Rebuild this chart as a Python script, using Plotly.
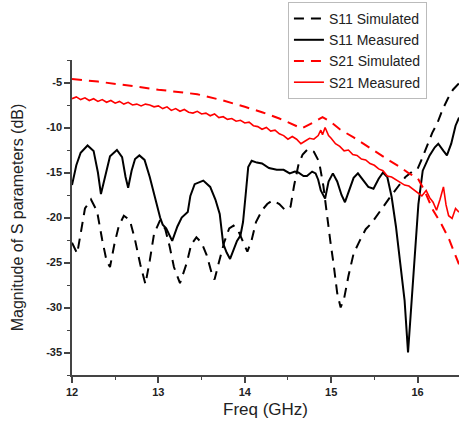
import plotly.graph_objects as go

# S11 Measured
s11m_x = [12.00, 12.05, 12.10, 12.18, 12.25, 12.30, 12.335, 12.38, 12.44, 12.52, 12.58, 12.62, 12.65, 12.69,
          12.73, 12.78, 12.84, 12.90, 12.96, 13.02, 13.05, 13.09, 13.16, 13.22, 13.27, 13.31, 13.34, 13.37,
          13.42, 13.52, 13.60, 13.66, 13.71, 13.75, 13.79, 13.83, 13.87, 13.91, 13.95, 13.98, 14.01, 14.04,
          14.08, 14.14, 14.20, 14.28, 14.37, 14.45, 14.52, 14.58, 14.62, 14.68, 14.72, 14.78, 14.82, 14.85,
          14.88, 14.93, 14.97, 15.02, 15.07, 15.12, 15.16, 15.21, 15.26, 15.31, 15.37, 15.43, 15.49, 15.55,
          15.60, 15.65, 15.70, 15.75, 15.80, 15.85, 15.89, 15.95, 16.01, 16.06, 16.14, 16.20, 16.24, 16.30,
          16.34, 16.39, 16.44, 16.48]
s11m_y = [-16.4, -14.2, -12.8, -12.0, -12.6, -15.0, -17.4, -15.5, -13.2, -12.5, -13.3, -15.5, -16.7, -14.8,
          -13.5, -13.1, -13.6, -15.5, -17.8, -20.0, -20.8, -21.2, -22.6, -21.0, -20.0, -19.7, -19.4, -17.6,
          -16.3, -15.9, -16.6, -18.0, -19.6, -22.9, -23.9, -24.6, -23.5, -22.6, -22.0, -20.5, -17.5, -14.4,
          -13.7, -13.9, -14.0, -14.5, -14.7, -14.7, -15.1, -14.9, -15.0, -15.4, -15.4, -14.9, -15.1, -15.8,
          -17.0, -17.9, -16.0, -15.1, -16.0, -17.5, -18.3, -17.0, -15.6, -15.1, -15.8, -16.6, -16.8, -15.7,
          -15.0, -15.5, -17.7, -21.0, -25.1, -29.2, -35.0, -27.0, -18.5, -14.8, -13.1, -12.2, -11.8, -12.6,
          -13.1, -11.8, -9.8, -8.9]

# S11 Simulated
s11s_x = [12.00, 12.06, 12.10, 12.15, 12.22, 12.29, 12.35, 12.40, 12.44, 12.49, 12.54, 12.60, 12.67, 12.73,
          12.79, 12.85, 12.90, 12.95, 13.02, 13.08, 13.13, 13.18, 13.25, 13.33, 13.38, 13.44, 13.50, 13.56,
          13.62, 13.65, 13.70, 13.76, 13.82, 13.87, 13.93, 13.99, 14.03, 14.08, 14.13, 14.20, 14.26, 14.32,
          14.40, 14.47, 14.53, 14.57, 14.62, 14.67, 14.73, 14.80, 14.86, 14.91, 14.95, 14.99, 15.03, 15.07,
          15.11, 15.15, 15.20, 15.26, 15.33, 15.40, 15.47, 15.55, 15.62, 15.70, 15.78, 15.86, 15.94, 16.00,
          16.05, 16.11, 16.17, 16.23, 16.29, 16.35, 16.41, 16.48]
s11s_y = [-22.8, -24.0, -21.8, -19.0, -18.0, -19.3, -22.5, -24.8, -25.5, -23.0, -21.0, -19.8, -20.3, -22.5,
          -25.2, -27.4, -24.8, -21.8, -20.3, -21.3, -23.2, -25.5, -27.3, -25.0, -23.0, -22.2, -22.8, -24.2,
          -26.3, -26.9, -25.0, -22.8, -21.2, -20.9, -21.6, -23.0, -23.8, -22.5, -20.5, -19.2, -18.5, -18.1,
          -18.5, -19.2, -18.8, -16.5, -14.2, -13.0, -12.4, -12.7, -13.8, -16.5, -19.8, -22.6, -25.3, -28.4,
          -30.0, -29.0, -26.5, -24.0, -22.6, -21.3, -20.6, -19.5, -18.6, -17.5, -16.5, -15.5, -14.9, -14.6,
          -13.5, -12.0, -10.6, -9.5, -8.0, -6.8, -5.8, -5.1]

# S21 Simulated
s21s_x = [12.0, 12.3, 12.7, 13.0, 13.45, 13.75, 14.0, 14.2, 14.4, 14.55, 14.66, 14.78, 14.9, 15.0, 15.1,
          15.26, 15.4, 15.55, 15.68, 15.8, 15.9, 16.0, 16.08, 16.18, 16.28, 16.36, 16.43, 16.48]
s21s_y = [-4.6, -4.9, -5.4, -5.8, -6.3, -7.0, -7.7, -8.3, -9.0, -9.6, -10.1, -9.5, -8.85, -9.4, -10.2,
          -11.1, -12.0, -12.9, -13.7, -14.4, -15.1, -15.6, -17.0, -19.2, -20.8, -22.3, -24.0, -25.2]

# S21 Measured
s21m_x = [12.00, 12.05, 12.10, 12.15, 12.20, 12.25, 12.30, 12.35, 12.40, 12.45, 12.50, 12.55, 12.60, 12.65,
          12.70, 12.75, 12.80, 12.85, 12.90, 12.95, 13.00, 13.05, 13.10, 13.15, 13.20, 13.25, 13.30, 13.35,
          13.40, 13.45, 13.50, 13.55, 13.60, 13.65, 13.70, 13.75, 13.80, 13.85, 13.90, 13.95, 14.00, 14.05,
          14.10, 14.15, 14.20, 14.25, 14.30, 14.35, 14.40, 14.45, 14.50, 14.55, 14.60, 14.65, 14.70, 14.75,
          14.80, 14.85, 14.88, 14.90, 14.93, 14.97, 15.00, 15.05, 15.10, 15.15, 15.20, 15.25, 15.30, 15.35,
          15.40, 15.45, 15.50, 15.55, 15.60, 15.65, 15.70, 15.75, 15.80, 15.85, 15.90, 15.95, 16.00, 16.05,
          16.10, 16.14, 16.18, 16.22, 16.26, 16.30, 16.33, 16.36, 16.40, 16.44, 16.48]
s21m_y = [-6.8, -6.6, -6.9, -6.7, -7.0, -6.8, -7.1, -6.9, -7.2, -7.0, -7.3, -7.1, -7.4, -7.2,
          -7.5, -7.4, -7.6, -7.4, -7.5, -7.7, -7.6, -7.9, -7.7, -8.1, -7.9, -8.2, -8.0, -8.3,
          -8.4, -8.2, -8.5, -8.4, -8.7, -8.5, -8.9, -8.8, -9.1, -9.0, -9.3, -9.2, -9.5, -9.4,
          -9.8, -9.9, -10.2, -10.0, -10.4, -10.3, -10.7, -10.9, -11.3, -11.0, -11.3, -11.8, -11.5, -11.2,
          -11.3, -10.9, -10.3, -10.8, -10.0, -10.9, -11.2, -11.8, -12.1, -12.6, -12.5, -13.0, -13.1, -13.5,
          -13.6, -14.0, -14.2, -14.6, -14.8, -15.4, -15.5, -15.8, -16.1, -16.4, -16.5, -16.9, -17.3, -17.6,
          -17.0, -17.8, -18.3, -19.2, -18.0, -16.6, -18.6, -19.8, -20.1, -19.0, -19.4]

x_ticks = [12, 13, 14, 15, 16]
y_ticks = [-5, -10, -15, -20, -25, -30, -35]

FONT = "Arial, Liberation Sans, sans-serif"

fig = go.Figure()
fig.add_trace(go.Scatter(x=s11s_x, y=s11s_y, mode="lines", name="S11 Simulated",
                         line=dict(color="black", width=2, dash="10px,7px")))
fig.add_trace(go.Scatter(x=s11m_x, y=s11m_y, mode="lines", name="S11 Measured",
                         line=dict(color="black", width=2)))
fig.add_trace(go.Scatter(x=s21s_x, y=s21s_y, mode="lines", name="S21 Simulated",
                         line=dict(color="#ff0000", width=2, dash="10px,7px")))
fig.add_trace(go.Scatter(x=s21m_x, y=s21m_y, mode="lines", name="S21 Measured",
                         line=dict(color="#ff0000", width=1.6)))

axis_common = dict(showgrid=False, zeroline=False, showline=True, linecolor="#444", linewidth=1.5,
                   ticks="outside", ticklen=6, tickwidth=1.5, tickcolor="#444", automargin=False,
                   tickfont=dict(family=FONT, size=11, color="#222", weight="bold"))

fig.update_xaxes(range=[12, 16.48], tickvals=x_ticks, ticktext=[str(v) for v in x_ticks],
                 minor=dict(dtick=0.5, tick0=12, ticks="outside", ticklen=3, tickwidth=1.2, tickcolor="#444"),
                 title=dict(text="Freq (GHz)", font=dict(family=FONT, size=17, color="#222"), standoff=6),
                 **axis_common)
# paper spans y=2..375 px; the axis occupies the lower 315 px
fig.update_yaxes(range=[-37.5, -2.5], tickvals=y_ticks, ticktext=[str(v) for v in y_ticks],
                 domain=[0, 315 / 373],
                 minor=dict(dtick=2.5, tick0=0, ticks="outside", ticklen=3, tickwidth=1.2, tickcolor="#444"),
                 title=dict(text="Magnitude of S parameters (dB)", font=dict(family=FONT, size=16, color="#222"),
                            standoff=19),
                 **axis_common)

fig.update_layout(width=459, height=427, margin=dict(l=72, r=0, t=2, b=52),
                  plot_bgcolor="white", paper_bgcolor="white",
                  legend=dict(x=0.558, y=1.0, xanchor="left", yanchor="top",
                              font=dict(family=FONT, size=14, color="#222"),
                              bgcolor="white", bordercolor="#bbb", borderwidth=1,
                              tracegroupgap=0, itemwidth=30))
fig.write_html("out.html", config={"displayModeBar": False},
               post_script="document.body.style.margin='0';")
